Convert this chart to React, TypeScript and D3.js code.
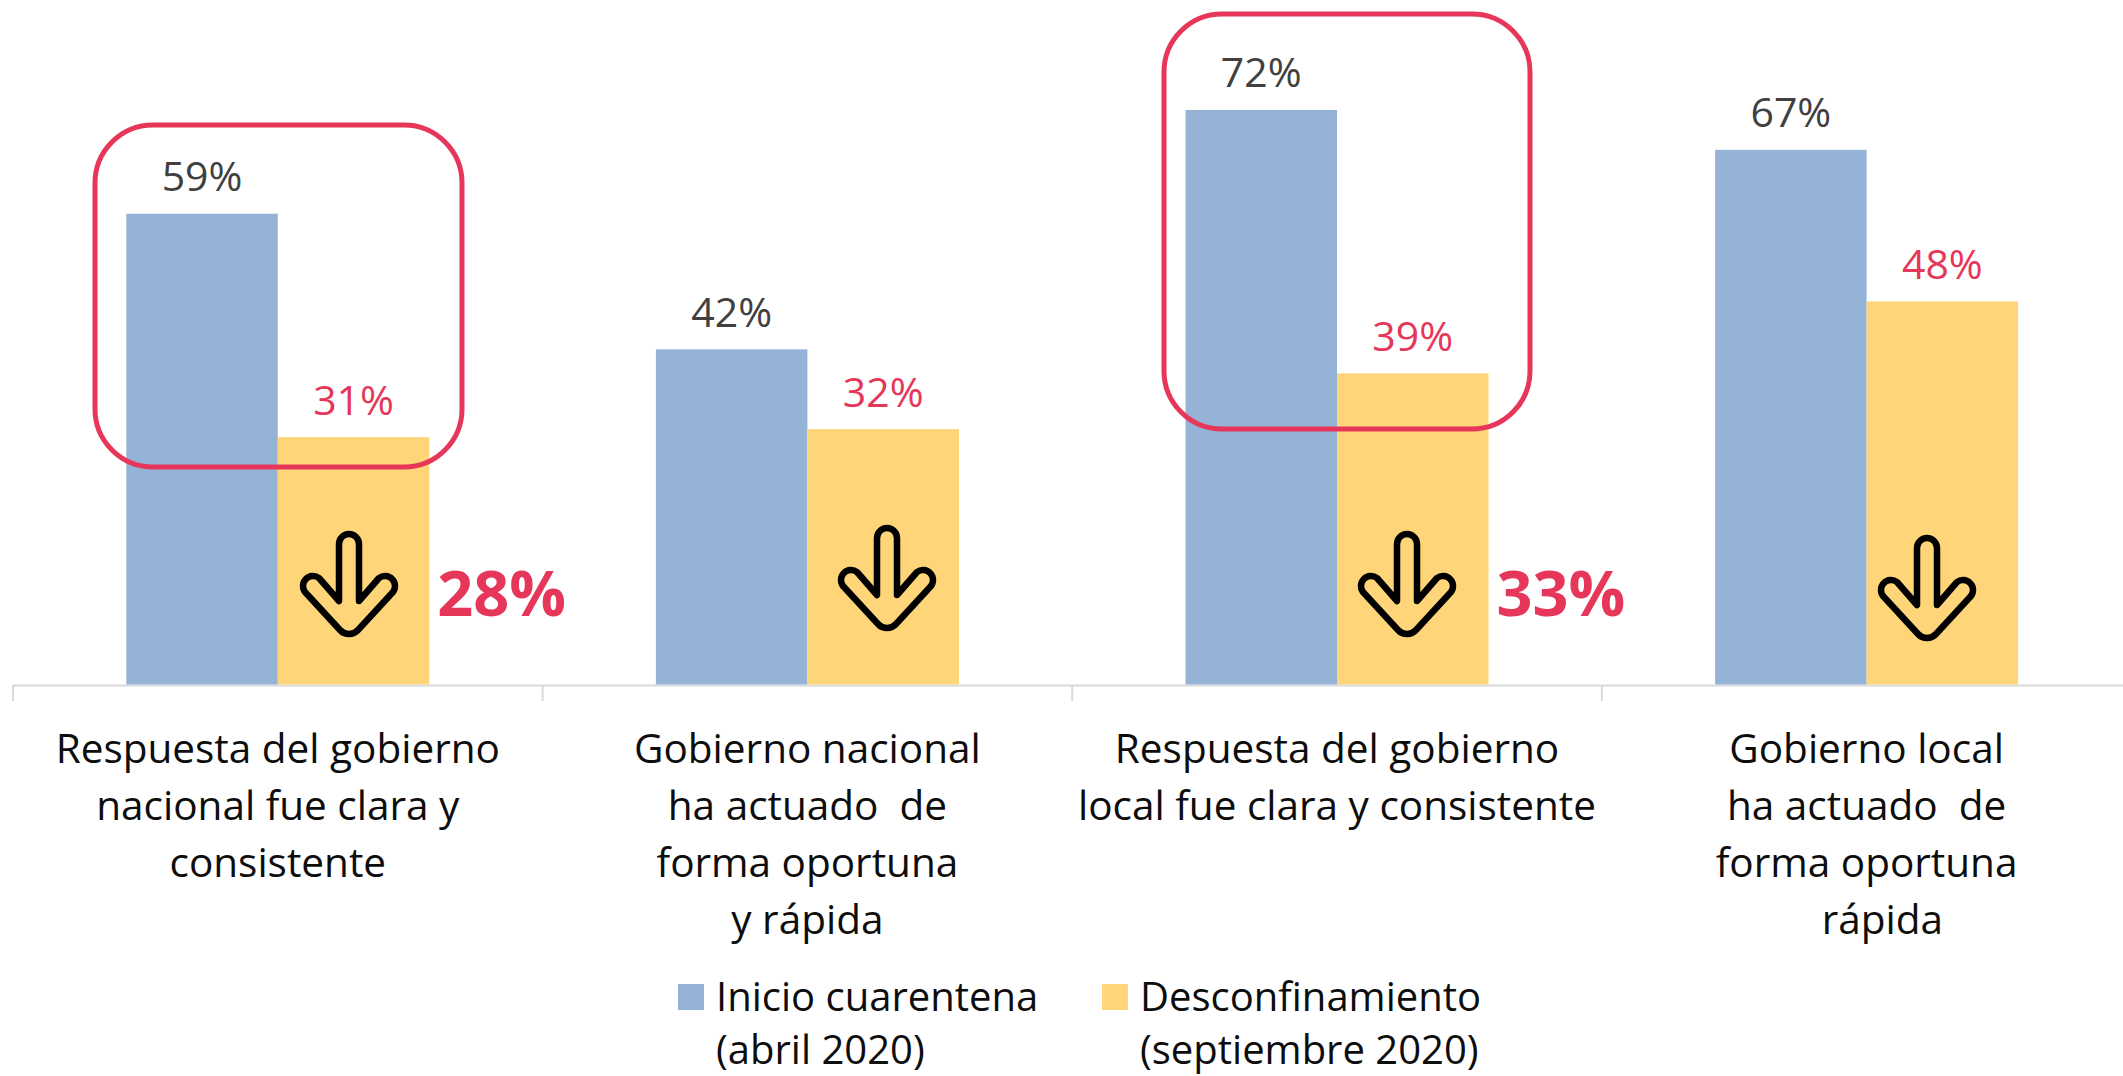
import React from "react";
import * as d3 from "d3";

const categories = ["c1", "c2", "c3", "c4"];
const categoryLines = [
  ["Respuesta del gobierno", "nacional fue clara y", "consistente"],
  ["Gobierno nacional", "ha actuado  de", "forma oportuna", "y rápida"],
  ["Respuesta del gobierno", "local fue clara y consistente"],
  ["Gobierno local", "ha actuado  de", "forma oportuna", "   rápida"],
];
const inicio = [59, 42, 72, 67];
const desconf = [31, 32, 39, 48];
const seriesNames = [["Inicio cuarentena", "(abril 2020)"], ["Desconfinamiento", "(septiembre 2020)"]];
const drops = [{ cat: 0, label: "28%" }, { cat: 2, label: "33%" }];

const W = 2123, H = 1076;
const FONT = "'Open Sans', 'Noto Sans', sans-serif";
const BLUE = "#95B3D7", YEL = "#FFD579", RED = "#E6375A", GREY = "#404040", AX = "#D9D9D9";

const x = d3.scaleBand<string>().domain(categories).range([13, 13 + 529.6 * 4]);
const y = d3.scaleLinear().domain([0, 100]).range([684.5, 684.5 - 798]);
const barW = 151.5;
const arrowX = [349, 887, 1407, 1927];
const arrowY = [533, 527, 533, 537];
const arrowPath = "M-10 68 L-10 11 A10 10 0 0 1 10 11 L10 68 L30 45 A10 10 0 0 1 44 59 L9 97 A12 12 0 0 1 -9 97 L-44 59 A10 10 0 0 1 -30 45 Z";

export default function App() {
  const c = (i: number) => x(categories[i])! + x.bandwidth() / 2;
  const fs = 40.5;
  return (
    <svg width={W} height={H} style={{ position: "fixed", left: 0, top: 0, background: "#fff" }} fontFamily={FONT}>
      <line x1={13} x2={W} y1={685.5} y2={685.5} stroke={AX} strokeWidth={2} />
      {[0, 1, 2, 3].map((i) => (
        <line key={i} x1={x(categories[i])!} x2={x(categories[i])!} y1={685} y2={701} stroke={AX} strokeWidth={2} />
      ))}
      {categories.map((k, i) => (
        <g key={k}>
          <rect x={c(i) - barW} y={y(inicio[i])} width={barW} height={y(0) - y(inicio[i])} fill={BLUE} />
          <rect x={c(i)} y={y(desconf[i])} width={barW} height={y(0) - y(desconf[i])} fill={YEL} />
          <text x={c(i) - barW / 2} y={y(inicio[i]) - 22.5} textAnchor="middle" fontSize={41} fill={GREY}>{inicio[i]}%</text>
          <text x={c(i) + barW / 2} y={y(desconf[i]) - 22.5} textAnchor="middle" fontSize={41} fill={RED}>{desconf[i]}%</text>
          <path d={arrowPath} transform={`translate(${arrowX[i]},${arrowY[i]})`} fill="none" stroke="#000" strokeWidth={6.5} strokeLinejoin="round" />
          {categoryLines[i].map((t, j) => (
            <text key={j} x={c(i)} y={763 + j * 57} textAnchor="middle" fontSize={fs} fill="#0D0D0D" style={{ whiteSpace: "pre" }}>{t}</text>
          ))}
        </g>
      ))}
      <rect x={95} y={125} width={367} height={342} rx={58} fill="none" stroke={RED} strokeWidth={5} />
      <rect x={1164} y={14} width={366} height={415} rx={58} fill="none" stroke={RED} strokeWidth={5} />
      {drops.map((d) => (
        <text key={d.label} x={c(d.cat) + barW + 8} y={616} fontSize={63} fontWeight={700} fill={RED}>{d.label}</text>
      ))}
      {seriesNames.map((s, i) => {
        const lx = i === 0 ? 678 : 1102;
        return (
          <g key={i}>
            <rect x={lx} y={984} width={26} height={26} fill={i === 0 ? BLUE : YEL} />
            {s.map((t, j) => (
              <text key={j} x={lx + 38} y={1011 + j * 53} fontSize={40} fill="#0D0D0D">{t}</text>
            ))}
          </g>
        );
      })}
    </svg>
  );
}
